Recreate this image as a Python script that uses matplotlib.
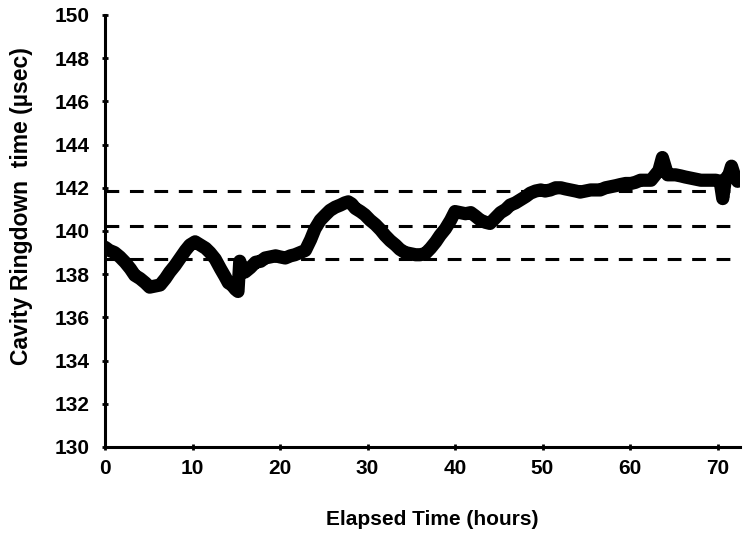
import numpy as np
import matplotlib
matplotlib.use('Agg')
import matplotlib.pyplot as plt

# ── Données (heures, µs) ──
heures = [0.0, 0.5, 1.1, 1.7, 2.3, 2.9, 3.4, 4.0, 4.6, 5.1, 5.7, 6.3, 6.9,
          7.4, 8.0, 8.6, 9.2, 9.7, 10.3, 10.9, 11.5, 12.0, 12.6, 13.2, 13.7,
          14.1, 14.5, 14.9, 15.2, 15.4, 15.7, 16.0, 16.6, 17.2, 17.8, 18.3,
          18.9, 19.5, 20.0, 20.6, 21.2, 21.7, 22.3, 22.9, 23.5, 24.0, 24.6,
          25.2, 25.7, 26.3, 26.9, 27.4, 27.8, 28.2, 28.6, 29.2, 29.7, 30.3,
          30.9, 31.5, 32.0, 32.6, 33.2, 33.7, 34.3, 34.9, 35.5, 36.0, 36.6,
          37.2, 37.8, 38.3, 38.9, 39.5, 40.0, 40.6, 41.2, 41.8, 42.3, 42.9,
          43.5, 44.0, 44.6, 45.2, 45.8, 46.3, 46.9, 47.5, 48.1, 48.6, 49.2,
          49.8, 50.3, 50.9, 51.5, 52.1, 52.6, 53.2, 53.8, 54.3, 54.9, 55.5,
          56.1, 56.6, 57.2, 57.8, 58.4, 58.9, 59.5, 60.1, 60.6, 61.2, 61.8,
          62.4, 62.9, 63.3, 63.7, 64.0, 64.3, 64.7, 65.2, 65.8, 66.3, 66.9,
          67.5, 68.1, 68.6, 69.2, 69.8, 70.3, 70.6, 70.9, 71.3, 71.6, 72.0,
          72.3]
tau = [139.25, 139.1, 139.0, 138.8, 138.55, 138.25, 137.95, 137.8, 137.6,
       137.4, 137.45, 137.5, 137.8, 138.1, 138.4, 138.75, 139.1, 139.35,
       139.5, 139.35, 139.2, 139.0, 138.7, 138.25, 137.9, 137.6, 137.5,
       137.3, 137.2, 138.6, 138.2, 138.1, 138.3, 138.55, 138.6, 138.75,
       138.8, 138.85, 138.8, 138.75, 138.85, 138.9, 139.0, 139.1, 139.6,
       140.1, 140.5, 140.75, 140.95, 141.1, 141.2, 141.3, 141.35, 141.25,
       141.05, 140.9, 140.75, 140.5, 140.3, 140.05, 139.8, 139.55, 139.35,
       139.15, 139.0, 138.95, 138.9, 138.9, 138.95, 139.2, 139.5, 139.8,
       140.1, 140.5, 140.9, 140.85, 140.8, 140.85, 140.7, 140.5, 140.4,
       140.35, 140.6, 140.85, 141.0, 141.2, 141.3, 141.45, 141.6, 141.75,
       141.85, 141.9, 141.85, 141.9, 142.0, 142.0, 141.95, 141.9, 141.85,
       141.8, 141.85, 141.9, 141.9, 141.9, 142.0, 142.05, 142.1, 142.15,
       142.2, 142.2, 142.25, 142.35, 142.35, 142.35, 142.6, 142.8, 143.4,
       143.0, 142.6, 142.6, 142.6, 142.55, 142.5, 142.45, 142.4, 142.35,
       142.35, 142.35, 142.35, 142.3, 141.5, 142.4, 142.6, 143.0, 142.5,
       142.3]

seuils = [141.85, 140.25, 138.7]

fig = plt.figure(figsize=(7.5, 5.37), dpi=100)
ax = fig.add_axes([0.14, 0.1676, 0.847, 0.8045])

ax.plot(heures, tau, color='black', lw=9.5, solid_joinstyle='round',
        solid_capstyle='round')
for s in seuils:
    ax.axhline(s, color='black', lw=2.2, dashes=(4.5, 3.5))

ax.set_xlim(0, 72.6)
ax.set_ylim(130, 150)
ax.set_xticks(np.arange(0, 71, 10))
ax.set_yticks(np.arange(130, 151, 2))

for side in ['top', 'right']:
    ax.spines[side].set_visible(False)
for side in ['left', 'bottom']:
    ax.spines[side].set_linewidth(2.2)

ax.tick_params(axis='both', width=2, length=5, labelsize=15, direction='inout')
ax.tick_params(axis='y', pad=8.5)
ax.tick_params(axis='x', pad=6)
for lab in ax.get_xticklabels() + ax.get_yticklabels():
    lab.set_fontfamily('Liberation Sans')
    lab.set_fontweight('bold')

ax.set_xlabel("Elapsed Time (hours)", fontsize=15, fontweight='bold',
              family='Liberation Sans')
ax.set_ylabel("Cavity Ringdown  time (\u00b5sec)", fontsize=16.5,
              fontweight='bold', family='Liberation Sans')
ax.xaxis.set_label_coords(0.515, -0.146)
ax.yaxis.set_label_coords(-0.113, 0.558)

plt.savefig("out.png", dpi=100)
